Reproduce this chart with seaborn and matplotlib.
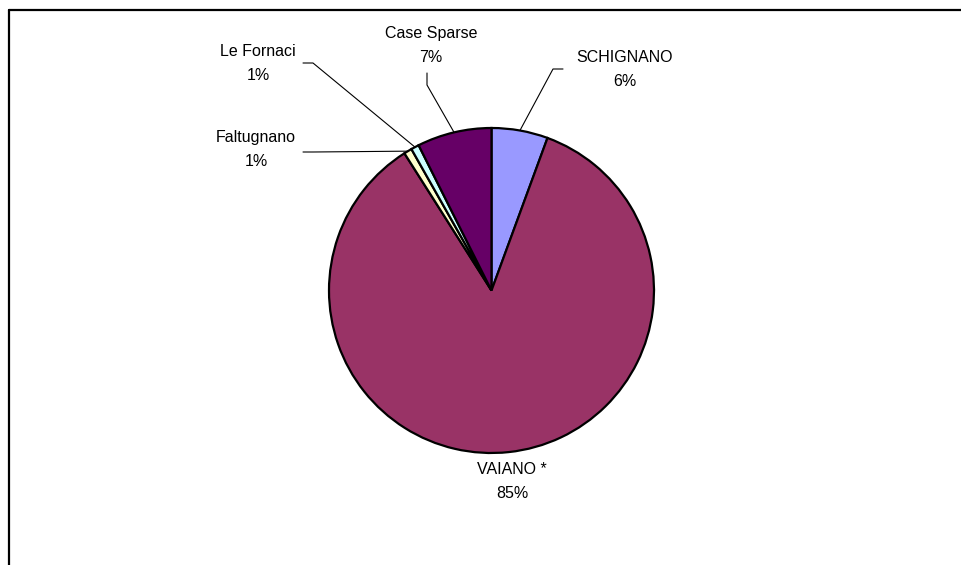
import numpy as np
import matplotlib
matplotlib.use('Agg')
import matplotlib.pyplot as plt
from matplotlib.lines import Line2D
import seaborn as sns

# Data
frazioni = ['SCHIGNANO', 'VAIANO *', 'Faltugnano', 'Le Fornaci', 'Case Sparse']
quote = [5.6, 85.4, 0.8, 0.8, 7.4]
colori = ['#9999FF', '#993366', '#FFFFCC', '#CCFFFF', '#660066']

sns.set_theme(style='white')
plt.rcParams['font.family'] = ['Liberation Sans', 'DejaVu Sans']

W, H = 962, 565
fig = plt.figure(figsize=(W / 100, H / 100), dpi=100)
ax = fig.add_axes([0, 0, 1, 1])

cx, cy, r = 491.5, H - 290.5, 162.5
wedges, _ = ax.pie(quote, colors=colori, startangle=90, counterclock=False,
                   center=(cx, cy), radius=r,
                   wedgeprops=dict(edgecolor='black', linewidth=1.6))
ax.set_xlim(0, W)
ax.set_ylim(0, H)
ax.set_aspect('equal')
ax.axis('off')

# label block centre and leader elbow (pixel coords, y from top)
layout = {
    'SCHIGNANO': ((625, 69), [(563, 69), (553, 69)]),
    'VAIANO *': ((512, 481), None),
    'Faltugnano': ((256, 149), [(303, 152), (313, 152)]),
    'Le Fornaci': ((258, 63), [(303, 63), (313, 63)]),
    'Case Sparse': ((431, 45), [(427, 73), (427, 85)]),
}

tot = sum(quote)
for w, nome, q in zip(wedges, frazioni, quote):
    pct = q / tot * 100
    (tx, ty), elbow = layout[nome]
    ax.text(tx, H - ty, f'{nome}\n{pct:.0f}%', ha='center', va='center',
            fontsize=11.5, linespacing=1.75, color='black')
    if elbow:
        mid = np.deg2rad((w.theta1 + w.theta2) / 2)
        px = cx + r * np.cos(mid)
        py = cy + r * np.sin(mid)
        xs = [e[0] for e in elbow] + [px]
        ys = [H - e[1] for e in elbow] + [py]
        ax.plot(xs, ys, color='black', lw=0.8)

# chart area frame (only top and left edges are visible in the crop)
fig.add_artist(Line2D([9 / W, 1], [1 - 10 / H, 1 - 10 / H], color='black', lw=1.6,
                      transform=fig.transFigure))
fig.add_artist(Line2D([9 / W, 9 / W], [0, 1 - 10 / H], color='black', lw=1.6,
                      transform=fig.transFigure))

fig.savefig('out.png', dpi=100, facecolor='white')
